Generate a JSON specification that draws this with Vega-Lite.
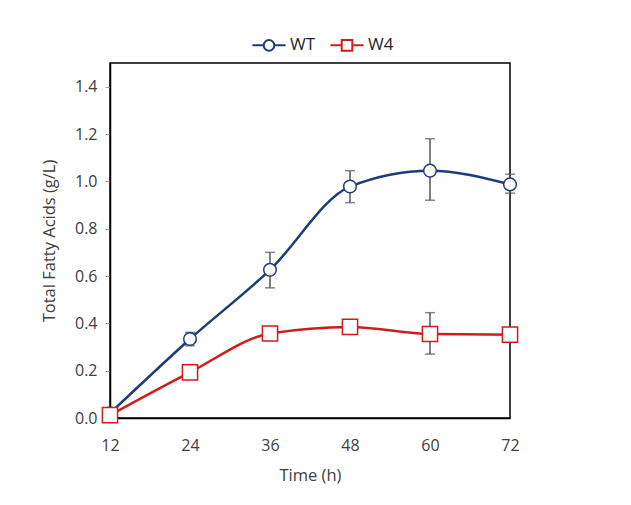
{
  "$schema": "https://vega.github.io/schema/vega-lite/v6.json",
  "width": 400,
  "height": 355,
  "autosize": {"type": "none"},
  "padding": {"left": 110, "top": 63, "right": 121, "bottom": 87},
  "background": "white",
  "config": {
    "font": "Open Sans",
    "view": {"stroke": "black", "strokeWidth": 1.5},
    "axis": {"labelFont": "Open Sans", "titleFont": "Open Sans", "labelColor": "#404040", "titleColor": "#404040", "labelFontSize": 16, "titleFontSize": 16.5, "titleFontWeight": "normal", "grid": false, "domainColor": "black", "domainWidth": 1.5, "labelFlush": false}
  },
  "data": {
    "values": [
      {"time": 12, "series": "WT", "value": 0.02, "lo": 0.02, "hi": 0.02},
      {"time": 24, "series": "WT", "value": 0.334, "lo": 0.305, "hi": 0.362},
      {"time": 36, "series": "WT", "value": 0.626, "lo": 0.55, "hi": 0.70},
      {"time": 48, "series": "WT", "value": 0.978, "lo": 0.91, "hi": 1.045},
      {"time": 60, "series": "WT", "value": 1.045, "lo": 0.92, "hi": 1.18},
      {"time": 72, "series": "WT", "value": 0.987, "lo": 0.95, "hi": 1.03},
      {"time": 12, "series": "W4", "value": 0.012, "lo": 0.012, "hi": 0.012},
      {"time": 24, "series": "W4", "value": 0.193, "lo": 0.185, "hi": 0.205},
      {"time": 36, "series": "W4", "value": 0.357, "lo": 0.357, "hi": 0.357},
      {"time": 48, "series": "W4", "value": 0.385, "lo": 0.385, "hi": 0.385},
      {"time": 60, "series": "W4", "value": 0.355, "lo": 0.27, "hi": 0.445},
      {"time": 72, "series": "W4", "value": 0.352, "lo": 0.352, "hi": 0.352}
    ]
  },
  "encoding": {
    "x": {"field": "time", "type": "quantitative", "scale": {"domain": [12, 72], "nice": false}, "axis": {"values": [12, 24, 36, 48, 60, 72], "ticks": false, "labelPadding": 19, "title": "Time (h)", "titlePadding": 14}},
    "y": {"field": "value", "type": "quantitative", "scale": {"domain": [0, 1.5], "nice": false}, "axis": {"values": [0, 0.2, 0.4, 0.6, 0.8, 1.0, 1.2, 1.4], "format": ".1f", "tickSize": 5, "tickColor": "#a0a0a0", "labelPadding": 8, "title": "Total Fatty Acids (g/L)", "titlePadding": 17}}
  },
  "layer": [
    {
      "mark": {"type": "errorbar", "ticks": {"size": 10}, "color": "#555555", "thickness": 1.5},
      "encoding": {
        "y": {"field": "lo", "type": "quantitative"},
        "y2": {"field": "hi"}
      }
    },
    {
      "mark": {"type": "line", "interpolate": "monotone", "strokeWidth": 2.5},
      "encoding": {
        "color": {"field": "series", "type": "nominal", "scale": {"domain": ["WT", "W4"], "range": ["#1f3b7a", "#d01c1c"]},
          "legend": {
            "orient": "none", "legendX": 141, "legendY": -36, "direction": "horizontal", "title": null,
            "labelFont": "Open Sans", "labelFontSize": 17, "labelColor": "#262626", "symbolSize": 1100, "symbolStrokeWidth": 2, "columnPadding": 10, "labelOffset": 3,
            "encode": {"symbols": {"update": {"shape": {"signal": "datum.value === 'WT' ? 'M-1,0L-0.32,0M0.32,0L1,0M-0.32,0A0.32,0.32,0,1,0,0.32,0A0.32,0.32,0,1,0,-0.32,0Z' : 'M-1,0L-0.32,0M0.32,0L1,0M-0.32,-0.32L0.32,-0.32L0.32,0.32L-0.32,0.32Z'"}, "fill": {"value": "white"}}}}
          }}
      }
    },
    {
      "transform": [{"filter": "datum.series === 'WT'"}],
      "mark": {"type": "point", "shape": "circle", "size": 160, "filled": true, "fill": "white", "stroke": "#1f3b7a", "strokeWidth": 1.5, "opacity": 1}
    },
    {
      "transform": [{"filter": "datum.series === 'W4'"}],
      "mark": {"type": "point", "shape": "square", "size": 230, "filled": true, "fill": "white", "stroke": "#d01c1c", "strokeWidth": 1.5, "opacity": 1}
    }
  ]
}
